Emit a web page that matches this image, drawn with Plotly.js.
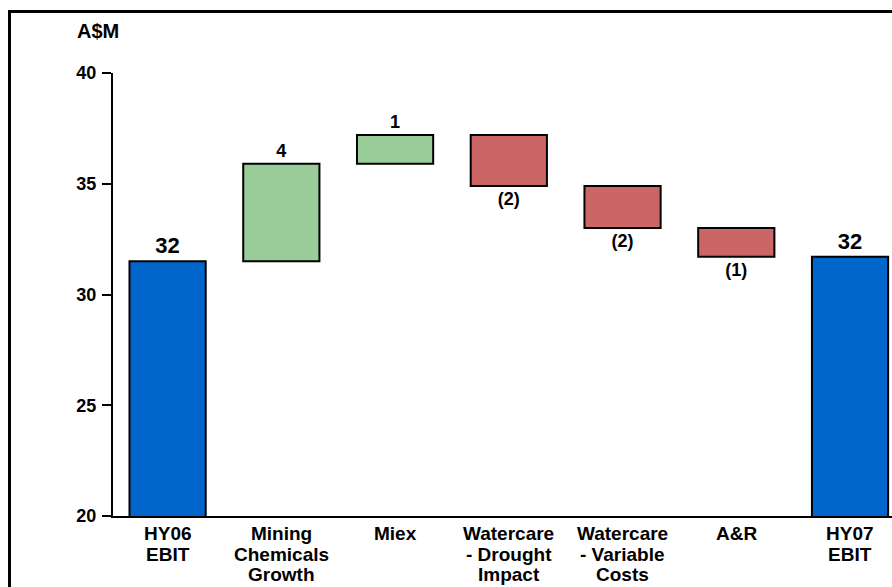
<!DOCTYPE html>
<html>
<head>
<meta charset="utf-8">
<script src="https://cdn.plot.ly/plotly-3.0.1.min.js"></script>
<style>
html,body{margin:0;padding:0;overflow:hidden;background:#fff;width:892px;height:587px;}
#chart{position:absolute;left:0;top:0;width:892px;height:587px;}
#frame{position:absolute;left:8px;top:10px;width:1000px;height:1000px;border:3px solid #000;pointer-events:none;}
</style>
</head>
<body>
<div id="chart"></div>
<div id="frame"></div>
<script>
const categories = ['HY06 EBIT','Mining Chemicals Growth','Miex','Watercare - Drought Impact','Watercare - Variable Costs','A&R','HY07 EBIT'];
const categoryLines = [['HY06','EBIT'],['Mining','Chemicals','Growth'],['Miex'],['Watercare','- Drought','Impact'],['Watercare','- Variable','Costs'],['A&R'],['HY07','EBIT']];
const measures = ['absolute','relative','relative','relative','relative','relative','total'];
const values = [31.5, 4.4, 1.3, -2.3, -1.9, -1.3, 31.7];
const labelSizes = [22,18,18,18,18,18,22];

const fmt = v => { const r = Math.round(Math.abs(v)); return v < 0 ? '(' + r + ')' : String(r); };
const labels = values.map(fmt);

const sans = 'Liberation Sans, Arial, sans-serif';

const trace = {
  type: 'waterfall',
  x: categories,
  y: values,
  measure: measures,
  text: labels,
  textposition: 'outside',
  texttemplate: '%{text}',
  constraintext: 'none',
  cliponaxis: false,
  width: 0.67,
  connector: {visible: false},
  increasing: {marker: {color: '#99CC99', line: {color: '#000', width: 2}}},
  decreasing: {marker: {color: '#CC6666', line: {color: '#000', width: 2}}},
  totals: {marker: {color: '#0066CC', line: {color: '#000', width: 2}}},
  textfont: {family: sans, size: labelSizes, color: '#000', weight: 700},
  hoverinfo: 'skip'
};

// category labels: one annotation per text line, placed at the category on the x axis
const catAnnotations = [];
categories.forEach((c, i) => {
  categoryLines[i].forEach((line, j) => {
    catAnnotations.push({
      text: line, xref: 'x', yref: 'paper', x: c, y: 0,
      xanchor: 'center', yanchor: 'middle', yshift: -(17.5 + j * 20.5),
      borderpad: 0,
      showarrow: false, font: {family: sans, size: 19, weight: 700, color: '#000'}
    });
  });
});

const layout = {
  width: 892, height: 587,
  margin: {l: 113, r: 0, t: 73, b: 71},
  paper_bgcolor: '#fff', plot_bgcolor: '#fff',
  showlegend: false,
  font: {family: sans, color: '#000'},
  xaxis: {
    type: 'category', range: [-0.48, 6.369], showgrid: false, zeroline: false,
    showline: true, linecolor: '#000', linewidth: 2, ticks: '', showticklabels: false
  },
  yaxis: {
    range: [20, 40], tickvals: [20, 25, 30, 35, 40], showgrid: false, zeroline: false,
    showline: true, linecolor: '#000', linewidth: 2, ticks: 'outside', ticklen: 9, tickwidth: 2, tickcolor: '#000',
    ticklabelstandoff: 2,
    tickfont: {family: sans, size: 18, weight: 700, color: '#000'}
  },
  annotations: [{
    text: 'A$M', xref: 'paper', yref: 'paper', x: -0.019, y: 1.095, xanchor: 'center', yanchor: 'middle',
    showarrow: false, font: {family: sans, size: 20, weight: 700, color: '#000'}
  }].concat(catAnnotations)
};

Plotly.newPlot('chart', [trace], layout, {displayModeBar: false, staticPlot: true});
</script>
</body>
</html>
